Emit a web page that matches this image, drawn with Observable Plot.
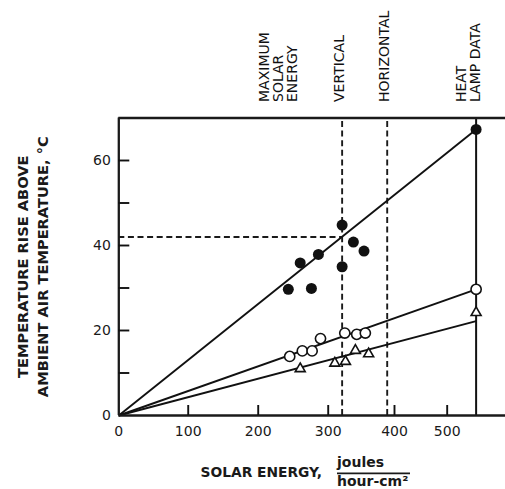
<!DOCTYPE html>
<html><head><meta charset="utf-8">
<script src="https://cdn.jsdelivr.net/npm/d3@7"></script>
<script src="https://cdn.jsdelivr.net/npm/@observablehq/plot@0.6"></script>
<style>
html,body{margin:0;padding:0;background:#fff;overflow:hidden;}
#chart svg{overflow:hidden;}
</style></head><body><div id="chart"></div>
<script>
// ---- data ----
const xTickValues = [0, 100, 200, 300, 400, 500];
const xTickMarks = [100, 200, 300, 400, 500];
const yTickLabels = [0, 20, 40, 60];
const yTickMarks = [10, 20, 30, 40, 50, 60];

// filled circles
const filledX = [243, 260, 276, 286, 321, 321, 338, 354, 555];
const filledY = [29.7, 35.9, 29.9, 37.9, 44.8, 35.0, 40.8, 38.7, 67.3];
// open circles
const openX = [245, 263, 277, 289, 325, 343, 356, 555];
const openY = [13.9, 15.2, 15.2, 18.1, 19.4, 19.1, 19.4, 29.7];
// open triangles
const triX = [260, 310, 326, 341, 361, 555];
const triY = [11.0, 12.3, 12.7, 15.3, 14.5, 24.2];

// fitted lines through the origin
const fitEndX = [555, 555, 555];
const fitEndY = [67.3, 29.7, 22.2];

// reference lines
const dashedX = [321, 389];      // VERTICAL, HORIZONTAL
const dashedY = [42];
const heatLampX = [555];

const annotations = ["MAXIMUM\nSOLAR\nENERGY", "VERTICAL", "HORIZONTAL", "HEAT\nLAMP DATA"];
const annotationX = [229, 317, 385, 540];

const yTitle = "TEMPERATURE RISE ABOVE\nAMBIENT AIR TEMPERATURE, °C";

// the reference's x axis is drawn unevenly: tick spacing (fractions of the axis)
const xBreaks = [0, 100, 200, 300, 400, 500, 620];
const xBreakFrac = [0, 0.1773, 0.3561, 0.5349, 0.7042, 0.8388, 1];
const xMax = 620;
const yMax = 70;

// ---- build ----
const filled = filledX.map((x, i) => ({x, y: filledY[i]}));
const open = openX.map((x, i) => ({x, y: openY[i]}));
const tri = triX.map((x, i) => ({x, y: triY[i]}));
const fits = fitEndX.map((x, i) => ({x, y: fitEndY[i]}));

const warp = d3.scaleLinear().domain(xBreaks.map(d => d / xMax)).range(xBreakFrac);
const xInterpolate = (a, b) => t => a + (b - a) * warp(t);

const ink = "#111";
const FONT = "'DejaVu Sans', Verdana, sans-serif";

const chart = Plot.plot({
  width: 505,
  height: 489,
  marginLeft: 118.3,
  marginRight: 0,
  marginTop: 117.5,
  marginBottom: 74,
  style: {fontFamily: FONT, fontSize: "14px", color: ink, background: "#fff"},
  x: {domain: [0, xMax], range: [118.3, 509.8], interpolate: xInterpolate},
  y: {domain: [0, yMax]},
  marks: [
    // dashed guide lines
    Plot.ruleX(dashedX, {x: d => d, y1: 0, y2: yMax, stroke: "#1a1a1a", strokeWidth: 1.9, strokeDasharray: "6,3.6"}),
    Plot.ruleY(dashedY, {y: d => d, x1: 0, x2: dashedX[0], stroke: "#1a1a1a", strokeWidth: 1.9, strokeDasharray: "6,3.6"}),
    // heat lamp solid line
    Plot.ruleX(heatLampX, {x: d => d, y1: 0, y2: yMax, stroke: ink, strokeWidth: 2}),
    // fitted lines
    Plot.link(fits, {x1: 0, y1: 0, x2: "x", y2: "y", stroke: ink, strokeWidth: 1.9}),
    // frame
    Plot.ruleY([0, yMax], {y: d => d, x1: 0, x2: xMax, stroke: "#1a1a1a", strokeWidth: 2.3}),
    Plot.ruleX([0], {x: d => d, y1: 0, y2: yMax, stroke: "#1a1a1a", strokeWidth: 2.3}),
    // axes: inward tick marks
    Plot.axisX(xTickMarks, {anchor: "bottom", tickSize: 10, dy: -10, tickFormat: () => "", label: null, stroke: ink, strokeWidth: 1.9}),
    Plot.axisY(yTickMarks, {anchor: "left", tickSize: 11, dx: 11, tickFormat: () => "", label: null, stroke: ink, strokeWidth: 1.9}),
    // axes: labels
    Plot.axisX(xTickValues, {anchor: "bottom", tickSize: 0, tickPadding: 11, fontSize: 14, label: null, fill: "#1a1a1a"}),
    Plot.axisY(yTickLabels, {anchor: "left", tickSize: 0, tickPadding: 8, fontSize: 14, label: null, fill: "#1a1a1a"}),
    // markers
    Plot.dot(filled, {x: "x", y: "y", r: 5.5, fill: ink, stroke: "none"}),
    Plot.dot(open, {x: "x", y: "y", r: 5.1, fill: "#fff", stroke: ink, strokeWidth: 1.6}),
    Plot.dot(tri, {x: "x", y: "y", r: 3.7, symbol: "triangle", fill: "#fff", stroke: ink, strokeWidth: 1.6}),
    // top annotations
    Plot.text(annotations, {x: (d, i) => annotationX[i], text: d => d, frameAnchor: "top", rotate: -90,
      textAnchor: "start", lineAnchor: "middle", dy: -16, fontSize: 14, lineHeight: 1.02, fill: "#111"}),
    // y title
    Plot.text([yTitle], {text: d => d, frameAnchor: "left", rotate: -90, dx: -87, textAnchor: "middle", lineAnchor: "middle",
      fontSize: 14.6, fontWeight: "bold", lineHeight: 1.37, fill: "#1a1a1a"})
  ]
});

document.getElementById("chart").appendChild(chart);

// x axis title with fraction units
const svg = d3.select(chart);
const g = svg.append("g").attr("font-family", FONT).attr("text-anchor", "start")
  .attr("font-weight", "bold").attr("fill", "#1a1a1a");
g.append("text").attr("x", 200.5).attr("y", 477).attr("font-size", 13.8).text("SOLAR ENERGY,");
g.append("text").attr("x", 337).attr("y", 467).attr("font-size", 14).text("joules");
g.append("line").attr("x1", 337).attr("x2", 410).attr("y1", 473.3).attr("y2", 473.3)
  .attr("stroke", "#1a1a1a").attr("stroke-width", 1.7);
g.append("text").attr("x", 337).attr("y", 485.5).attr("font-size", 14).text("hour-cm²");
</script></body></html>
